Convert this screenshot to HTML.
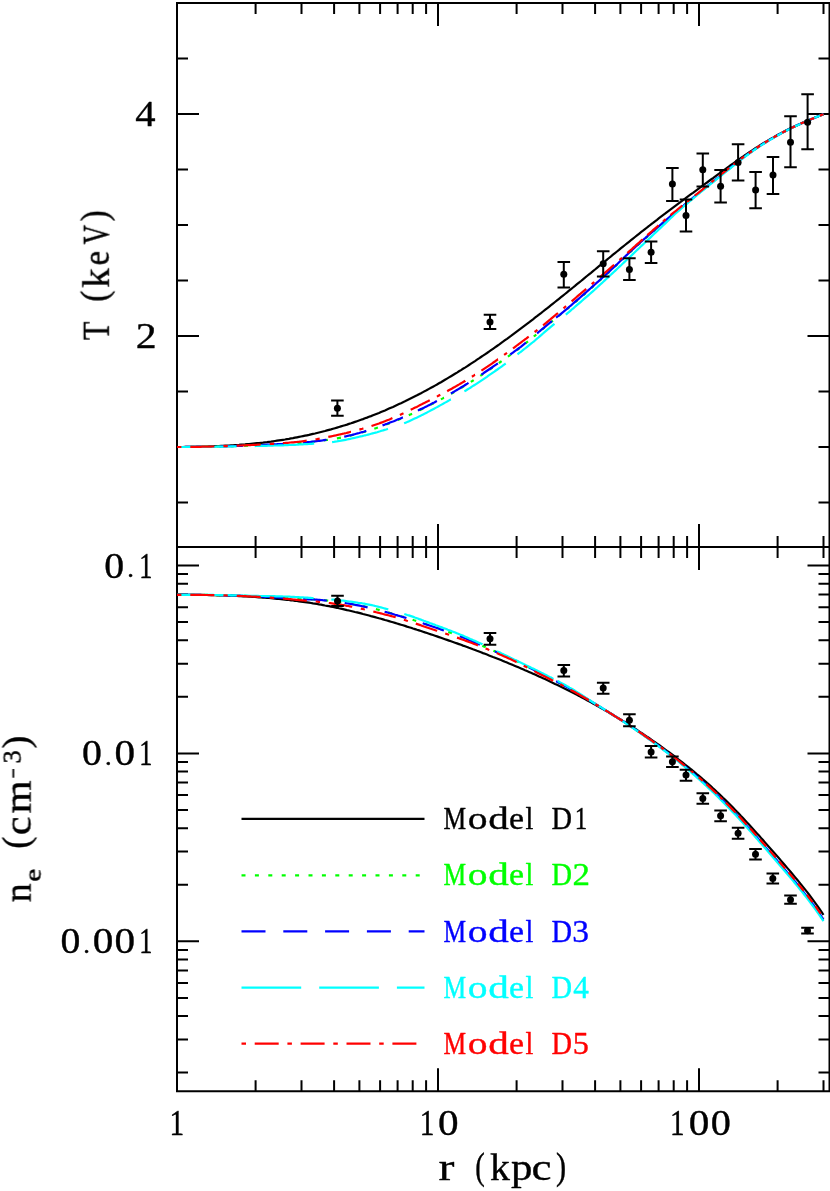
<!DOCTYPE html>
<html><head><meta charset="utf-8"><title>chart</title>
<style>
html,body{margin:0;padding:0;background:#fff;}
body{width:830px;height:1191px;overflow:hidden;}
svg{display:block;font-family:"Liberation Serif",serif;}
svg text{font-family:"Liberation Serif",serif;}
</style></head><body>
<svg width="830" height="1191" viewBox="0 0 830 1191">
<rect x="0" y="0" width="830" height="1191" fill="#fff"/>
<path d="M177.0 3.0H829.5V1091.3H177.0ZM177.0 547.0H829.5M255.6 3.0v11.1M255.6 535.9v22.2M255.6 1091.3v-11.1M301.5 3.0v11.1M301.5 535.9v22.2M301.5 1091.3v-11.1M334.1 3.0v11.1M334.1 535.9v22.2M334.1 1091.3v-11.1M359.4 3.0v11.1M359.4 535.9v22.2M359.4 1091.3v-11.1M380.1 3.0v11.1M380.1 535.9v22.2M380.1 1091.3v-11.1M397.6 3.0v11.1M397.6 535.9v22.2M397.6 1091.3v-11.1M412.7 3.0v11.1M412.7 535.9v22.2M412.7 1091.3v-11.1M426.1 3.0v11.1M426.1 535.9v22.2M426.1 1091.3v-11.1M438.0 3.0v23.0M438.0 524.0v46.0M438.0 1091.3v-23.0M516.6 3.0v11.1M516.6 535.9v22.2M516.6 1091.3v-11.1M562.5 3.0v11.1M562.5 535.9v22.2M562.5 1091.3v-11.1M595.1 3.0v11.1M595.1 535.9v22.2M595.1 1091.3v-11.1M620.4 3.0v11.1M620.4 535.9v22.2M620.4 1091.3v-11.1M641.1 3.0v11.1M641.1 535.9v22.2M641.1 1091.3v-11.1M658.6 3.0v11.1M658.6 535.9v22.2M658.6 1091.3v-11.1M673.7 3.0v11.1M673.7 535.9v22.2M673.7 1091.3v-11.1M687.1 3.0v11.1M687.1 535.9v22.2M687.1 1091.3v-11.1M699.0 3.0v23.0M699.0 524.0v46.0M699.0 1091.3v-23.0M777.6 3.0v11.1M777.6 535.9v22.2M777.6 1091.3v-11.1M823.5 3.0v11.1M823.5 535.9v22.2M823.5 1091.3v-11.1M177.0 502.5h11.0M829.5 502.5h-11.0M177.0 447.0h11.0M829.5 447.0h-11.0M177.0 391.5h11.0M829.5 391.5h-11.0M177.0 336.0h22.0M829.5 336.0h-22.0M177.0 280.5h11.0M829.5 280.5h-11.0M177.0 225.0h11.0M829.5 225.0h-11.0M177.0 169.5h11.0M829.5 169.5h-11.0M177.0 114.0h22.0M829.5 114.0h-22.0M177.0 58.5h11.0M829.5 58.5h-11.0M177.0 1072.6h11.0M829.5 1072.6h-11.0M177.0 1039.5h11.0M829.5 1039.5h-11.0M177.0 1016.1h11.0M829.5 1016.1h-11.0M177.0 997.9h11.0M829.5 997.9h-11.0M177.0 983.0h11.0M829.5 983.0h-11.0M177.0 970.4h11.0M829.5 970.4h-11.0M177.0 959.5h11.0M829.5 959.5h-11.0M177.0 949.9h11.0M829.5 949.9h-11.0M177.0 941.3h22.0M829.5 941.3h-22.0M177.0 884.7h11.0M829.5 884.7h-11.0M177.0 851.6h11.0M829.5 851.6h-11.0M177.0 828.2h11.0M829.5 828.2h-11.0M177.0 810.0h11.0M829.5 810.0h-11.0M177.0 795.1h11.0M829.5 795.1h-11.0M177.0 782.5h11.0M829.5 782.5h-11.0M177.0 771.6h11.0M829.5 771.6h-11.0M177.0 762.0h11.0M829.5 762.0h-11.0M177.0 753.4h22.0M829.5 753.4h-22.0M177.0 696.8h11.0M829.5 696.8h-11.0M177.0 663.7h11.0M829.5 663.7h-11.0M177.0 640.3h11.0M829.5 640.3h-11.0M177.0 622.1h11.0M829.5 622.1h-11.0M177.0 607.2h11.0M829.5 607.2h-11.0M177.0 594.6h11.0M829.5 594.6h-11.0M177.0 583.7h11.0M829.5 583.7h-11.0M177.0 574.1h11.0M829.5 574.1h-11.0M177.0 565.5h22.0M829.5 565.5h-22.0" fill="none" stroke="#000" stroke-width="2" stroke-linecap="butt" stroke-linejoin="miter"/>
<path d="M177.0 447.0 L179.0 447.0 L181.0 447.0 L183.0 447.0 L185.0 446.9 L187.0 446.9 L189.0 446.9 L191.0 446.8 L193.0 446.8 L195.0 446.8 L197.0 446.7 L199.0 446.7 L201.0 446.6 L203.0 446.6 L205.0 446.5 L207.0 446.5 L209.0 446.4 L211.0 446.3 L213.0 446.3 L215.0 446.2 L217.0 446.1 L219.0 446.0 L221.0 445.9 L223.0 445.8 L225.0 445.7 L227.0 445.6 L229.0 445.5 L231.0 445.4 L233.0 445.3 L235.0 445.1 L237.0 445.0 L239.0 444.9 L241.0 444.7 L243.0 444.5 L245.0 444.4 L247.0 444.2 L249.0 444.0 L251.0 443.8 L253.0 443.6 L255.0 443.4 L257.0 443.2 L259.0 443.0 L261.0 442.8 L263.0 442.6 L265.0 442.3 L267.0 442.1 L269.0 441.8 L271.0 441.6 L273.0 441.3 L275.0 441.0 L277.0 440.7 L279.0 440.4 L281.0 440.1 L283.0 439.8 L285.0 439.5 L287.0 439.1 L289.0 438.8 L291.0 438.4 L293.0 438.1 L295.0 437.7 L297.0 437.3 L299.0 436.9 L301.0 436.5 L303.0 436.1 L305.0 435.7 L307.0 435.3 L309.0 434.9 L311.0 434.4 L313.0 433.9 L315.0 433.5 L317.0 433.0 L319.0 432.5 L321.0 432.0 L323.0 431.5 L325.0 431.0 L327.0 430.4 L329.0 429.9 L331.0 429.4 L333.0 428.8 L335.0 428.2 L337.0 427.6 L339.0 427.0 L341.0 426.4 L343.0 425.8 L345.0 425.2 L347.0 424.6 L349.0 423.9 L351.0 423.3 L353.0 422.6 L355.0 421.9 L357.0 421.2 L359.0 420.5 L361.0 419.8 L363.0 419.1 L365.0 418.3 L367.0 417.6 L369.0 416.8 L371.0 416.1 L373.0 415.3 L375.0 414.5 L377.0 413.7 L379.0 412.9 L381.0 412.0 L383.0 411.2 L385.0 410.4 L387.0 409.5 L389.0 408.6 L391.0 407.7 L393.0 406.9 L395.0 405.9 L397.0 405.0 L399.0 404.1 L401.0 403.2 L403.0 402.2 L405.0 401.3 L407.0 400.3 L409.0 399.3 L411.0 398.3 L413.0 397.3 L415.0 396.3 L417.0 395.3 L419.0 394.2 L421.0 393.2 L423.0 392.1 L425.0 391.1 L427.0 390.0 L429.0 388.9 L431.0 387.8 L433.0 386.7 L435.0 385.6 L437.0 384.5 L439.0 383.3 L441.0 382.2 L443.0 381.0 L445.0 379.8 L447.0 378.6 L449.0 377.4 L451.0 376.2 L453.0 375.0 L455.0 373.8 L457.0 372.6 L459.0 371.3 L461.0 370.1 L463.0 368.8 L465.0 367.6 L467.0 366.3 L469.0 365.0 L471.0 363.7 L473.0 362.4 L475.0 361.1 L477.0 359.7 L479.0 358.4 L481.0 357.0 L483.0 355.7 L485.0 354.3 L487.0 353.0 L489.0 351.6 L491.0 350.2 L493.0 348.8 L495.0 347.4 L497.0 346.0 L499.0 344.6 L501.0 343.1 L503.0 341.7 L505.0 340.2 L507.0 338.8 L509.0 337.3 L511.0 335.9 L513.0 334.4 L515.0 332.9 L517.0 331.4 L519.0 329.9 L521.0 328.4 L523.0 326.9 L525.0 325.4 L527.0 323.9 L529.0 322.4 L531.0 320.8 L533.0 319.3 L535.0 317.7 L537.0 316.2 L539.0 314.6 L541.0 313.1 L543.0 311.5 L545.0 309.9 L547.0 308.4 L549.0 306.8 L551.0 305.2 L553.0 303.6 L555.0 302.0 L557.0 300.4 L559.0 298.8 L561.0 297.2 L563.0 295.6 L565.0 294.0 L567.0 292.4 L569.0 290.7 L571.0 289.1 L573.0 287.5 L575.0 285.9 L577.0 284.2 L579.0 282.6 L581.0 281.0 L583.0 279.3 L585.0 277.7 L587.0 276.0 L589.0 274.4 L591.0 272.8 L593.0 271.1 L595.0 269.5 L597.0 267.8 L599.0 266.2 L601.0 264.6 L603.0 262.9 L605.0 261.3 L607.0 259.6 L609.0 258.0 L611.0 256.4 L613.0 254.7 L615.0 253.1 L617.0 251.5 L619.0 249.9 L621.0 248.2 L623.0 246.6 L625.0 245.0 L627.0 243.4 L629.0 241.8 L631.0 240.2 L633.0 238.6 L635.0 237.0 L637.0 235.4 L639.0 233.8 L641.0 232.2 L643.0 230.7 L645.0 229.1 L647.0 227.5 L649.0 226.0 L651.0 224.4 L653.0 222.9 L655.0 221.3 L657.0 219.8 L659.0 218.2 L661.0 216.7 L663.0 215.2 L665.0 213.7 L667.0 212.1 L669.0 210.6 L671.0 209.1 L673.0 207.6 L675.0 206.1 L677.0 204.6 L679.0 203.1 L681.0 201.6 L683.0 200.1 L685.0 198.7 L687.0 197.2 L689.0 195.7 L691.0 194.2 L693.0 192.8 L695.0 191.3 L697.0 189.8 L699.0 188.3 L701.0 186.9 L703.0 185.4 L705.0 183.9 L707.0 182.5 L709.0 181.0 L711.0 179.5 L713.0 178.1 L715.0 176.6 L717.0 175.1 L719.0 173.7 L721.0 172.2 L723.0 170.8 L725.0 169.3 L727.0 167.9 L729.0 166.5 L731.0 165.0 L733.0 163.6 L735.0 162.2 L737.0 160.8 L739.0 159.4 L741.0 158.0 L743.0 156.6 L745.0 155.2 L747.0 153.9 L749.0 152.5 L751.0 151.2 L753.0 149.9 L755.0 148.5 L757.0 147.3 L759.0 146.0 L761.0 144.7 L763.0 143.5 L765.0 142.3 L767.0 141.1 L769.0 139.9 L771.0 138.7 L773.0 137.6 L775.0 136.4 L777.0 135.3 L779.0 134.2 L781.0 133.2 L783.0 132.1 L785.0 131.1 L787.0 130.1 L789.0 129.1 L791.0 128.1 L793.0 127.1 L795.0 126.2 L797.0 125.3 L799.0 124.4 L801.0 123.5 L803.0 122.6 L805.0 121.7 L807.0 120.9 L809.0 120.0 L811.0 119.2 L813.0 118.4 L815.0 117.6 L817.0 116.8 L819.0 116.0 L821.0 115.2 L823.0 114.4 L823.5 114.2" fill="none" stroke="#000" stroke-width="2.2"/>
<path d="M177.0 447.0L178.5 447.0L180.0 447.0L181.1 447.0M190.4 446.9L191.9 446.9L193.4 446.9L194.5 446.9M203.8 446.8L205.3 446.8L206.8 446.7L207.9 446.7M217.2 446.6L218.7 446.5L220.2 446.5L221.3 446.5M230.6 446.2L232.1 446.1L233.6 446.1L234.7 446.0M244.0 445.7L245.5 445.7L247.0 445.6L248.1 445.6M257.4 445.3L258.9 445.2L260.4 445.2L261.5 445.1M270.8 444.6L272.3 444.6L273.8 444.5L274.8 444.5M284.1 444.0L285.6 443.9L287.1 443.9L288.2 443.8M297.5 443.2L299.0 443.1L300.5 443.0L301.5 442.9M310.7 442.0L312.2 441.9L313.7 441.7L314.8 441.5M323.9 440.4L325.4 440.2L326.9 440.0L327.9 439.8M336.9 438.4L338.4 438.1L339.9 437.8L340.9 437.6M349.7 435.7L351.2 435.4L352.7 435.0L353.5 434.8M362.1 432.5L363.6 432.0L365.1 431.6L365.9 431.3M374.3 428.7L375.8 428.2L377.3 427.7L377.9 427.5M386.1 424.5L387.6 424.0L389.1 423.4L389.6 423.2M397.6 420.1L399.1 419.5L400.6 418.8L401.0 418.7M408.8 415.3L410.3 414.6L411.8 413.9L412.1 413.8M419.7 410.2L421.2 409.5L422.7 408.8L423.0 408.6M430.4 404.9L431.9 404.1L433.4 403.4L433.6 403.3M440.9 399.4L442.4 398.6L443.9 397.8L444.0 397.8M451.1 393.8L452.6 393.0L454.1 392.1L454.2 392.1M461.1 388.0L462.6 387.1L464.1 386.1M470.8 381.9L472.3 381.0L473.7 380.1M480.3 375.8L481.8 374.8L483.1 373.9M489.6 369.5L491.1 368.5L492.4 367.6M498.9 363.1L500.4 362.0L501.6 361.2M507.9 356.7L509.4 355.6L510.7 354.7M516.9 350.1L518.4 349.0L519.5 348.2M525.5 343.4L527.0 342.2L528.0 341.4M533.8 336.5L535.3 335.3L536.2 334.5M542.0 329.6L543.5 328.4L544.5 327.5M550.4 322.7L551.9 321.5L552.9 320.7M558.8 315.9L560.3 314.7L561.3 313.9M567.0 309.1L568.5 307.9L569.5 307.0M575.2 302.1L576.7 300.9L577.6 300.1M583.3 295.1L584.8 293.8L585.7 293.0M591.2 288.1L592.7 286.8L593.6 286.0M599.2 281.0L600.7 279.6L601.5 278.9M607.0 274.0L608.5 272.6L609.4 271.7M614.7 266.8L616.2 265.4L617.0 264.6M622.3 259.6L623.8 258.2L624.6 257.4M629.9 252.4L631.4 251.0L632.3 250.2M637.7 245.2L639.2 243.9L640.1 243.1M645.6 238.1L647.1 236.8L648.0 236.0M653.6 231.1L655.1 229.7L656.0 229.0M661.6 224.1L663.1 222.8L664.0 222.0M669.7 217.2L671.2 215.9L672.2 215.0M678.0 210.2L679.5 208.9L680.5 208.1M686.3 203.3L687.8 202.1L688.8 201.3M694.6 196.5L696.1 195.3L697.2 194.4M703.0 189.7L704.5 188.5L705.6 187.6M711.5 182.8L713.0 181.6L714.0 180.8M719.9 176.1L721.4 174.9L722.5 174.0M728.4 169.3L729.9 168.1L731.0 167.2M736.9 162.6L738.4 161.4L739.5 160.5M745.6 155.9L747.1 154.8L748.4 153.9M754.8 149.5L756.3 148.4L757.6 147.6M764.2 143.3L765.7 142.4L767.2 141.4M774.1 137.3L775.6 136.4L777.1 135.6M784.3 131.7L785.8 130.9L787.3 130.1L787.5 130.0M794.9 126.4L796.4 125.7L797.9 125.0L798.3 124.8M806.0 121.4L807.5 120.7L809.0 120.1L809.4 119.9M817.3 116.7L818.8 116.1L820.3 115.5L820.7 115.3" fill="none" stroke="#00ff00" stroke-width="2.2"/>
<path d="M177.0 447.0L178.5 447.0L180.0 447.0L181.5 447.0L183.0 447.0L184.5 447.0L186.0 446.9L187.5 446.9L189.0 446.9L190.5 446.9L192.0 446.9L193.5 446.9L195.0 446.9L196.5 446.9L198.0 446.8L199.5 446.8L200.9 446.8M219.1 446.5L220.6 446.5L222.1 446.4L223.6 446.4L225.1 446.3L226.6 446.3L228.1 446.2L229.6 446.2L231.1 446.1L232.6 446.1L234.1 446.0L235.6 446.0L237.1 445.9L238.6 445.9L240.1 445.8L241.6 445.8L243.0 445.7M261.2 445.0L262.7 445.0L264.2 444.9L265.7 444.8L267.2 444.7L268.7 444.7L270.2 444.6L271.7 444.5L273.2 444.4L274.7 444.4L276.2 444.3L277.7 444.2L279.2 444.2L280.7 444.1L282.2 444.0L283.7 443.9L285.0 443.9M303.1 442.6L304.6 442.5L306.1 442.4L307.6 442.2L309.1 442.0L310.6 441.9L312.1 441.7L313.6 441.5L315.1 441.3L316.6 441.1L318.1 441.0L319.6 440.8L321.1 440.6L322.6 440.4L324.1 440.1L325.6 439.9L326.6 439.8M344.2 436.7L345.7 436.4L347.2 436.0L348.7 435.7L350.2 435.3L351.7 435.0L353.2 434.6L354.7 434.2L356.2 433.8L357.7 433.4L359.2 433.0L360.7 432.5L362.2 432.1L363.7 431.7L365.2 431.2L366.3 430.9M382.5 425.4L384.0 424.9L385.5 424.3L387.0 423.8L388.5 423.2L390.0 422.6L391.5 422.0L393.0 421.5L394.5 420.9L396.0 420.2L397.5 419.6L399.0 419.0L400.5 418.4L402.0 417.7L402.9 417.4M417.9 410.6L419.4 409.8L420.9 409.1L422.4 408.4L423.9 407.7L425.4 406.9L426.9 406.2L428.4 405.4L429.9 404.7L431.4 403.9L432.9 403.1L434.4 402.4L435.9 401.6L436.9 401.1M450.9 393.5L452.4 392.6L453.9 391.8L455.4 390.9L456.9 390.0L458.4 389.1L459.9 388.2L461.4 387.3L462.9 386.4L464.4 385.5L465.9 384.5L467.4 383.6L468.5 382.9M481.4 374.6L482.9 373.6L484.4 372.5L485.9 371.5L487.4 370.5L488.9 369.5L490.4 368.5L491.9 367.5L493.4 366.4L494.9 365.4L496.4 364.4L497.9 363.3M510.3 354.5L511.8 353.4L513.3 352.3L514.8 351.2L516.3 350.1L517.8 349.0L519.3 347.9L520.8 346.8L522.3 345.6L523.8 344.4L525.3 343.2L525.9 342.7M537.1 333.3L538.6 332.0L540.1 330.8L541.6 329.5L543.1 328.3L544.6 327.1L546.1 325.8L547.6 324.6L549.1 323.4L550.6 322.2L552.0 321.1M556.1 317.7L557.6 316.5L559.1 315.3L560.6 314.1L562.1 312.8L563.6 311.6L565.1 310.3L566.6 309.1L568.1 307.8L569.6 306.5L571.1 305.3L572.6 304.0L574.1 302.7L575.6 301.4L577.1 300.1L578.6 298.8L580.1 297.5L581.6 296.2L583.1 294.9L584.6 293.6L586.1 292.2L587.6 290.9L589.1 289.6L590.6 288.3L592.1 286.9L593.6 285.6L595.1 284.3L596.6 282.9L598.1 281.6L599.6 280.2L601.1 278.9L602.6 277.5L604.1 276.2L605.6 274.8L607.1 273.5L608.6 272.1L610.1 270.7L611.6 269.3L613.1 267.9L614.6 266.5L616.1 265.1L617.6 263.7L619.1 262.2L620.6 260.8L622.1 259.4L623.6 258.0L625.1 256.5L626.6 255.1L628.1 253.7L629.6 252.3L631.1 250.9L632.6 249.5L634.1 248.1L635.6 246.8L637.1 245.4L638.6 244.0L640.1 242.7L641.6 241.3L643.1 240.0L644.6 238.7L646.1 237.3L647.6 236.0L649.1 234.7L650.6 233.4L652.1 232.1L653.6 230.8L655.1 229.5L656.6 228.2L658.1 226.9L659.6 225.6L661.1 224.3L662.6 223.0L664.1 221.7L665.6 220.5L667.1 219.2L668.6 217.9L670.1 216.7L671.6 215.4L673.1 214.2L674.6 212.9L676.1 211.7L677.6 210.4L679.1 209.2L680.6 207.9L682.1 206.7L683.6 205.5L685.1 204.2L686.6 203.0L688.1 201.8L689.6 200.6L691.1 199.3L692.6 198.1L694.1 196.9L695.6 195.7L697.1 194.5L698.6 193.2L700.1 192.0L701.6 190.8L703.1 189.6L704.6 188.4L706.1 187.2L707.6 185.9L709.1 184.7L710.6 183.5L712.1 182.3L713.6 181.1L715.1 179.9L716.6 178.7L718.1 177.5L719.6 176.3L721.1 175.1L722.6 173.9L724.1 172.7L725.6 171.5L727.1 170.3L728.6 169.1L730.1 167.9L731.6 166.7L733.1 165.5L734.6 164.3L736.1 163.1L737.6 162.0L739.1 160.8L740.6 159.7L742.1 158.5L743.6 157.4L745.1 156.3L746.6 155.2L748.1 154.1L749.6 153.0L751.1 152.0L752.6 150.9L754.1 149.9L755.6 148.9L757.1 147.9L758.6 146.9L760.1 145.9L761.6 144.9L763.1 144.0L764.6 143.0L766.1 142.1L767.6 141.2L769.1 140.3L770.6 139.4L772.1 138.5L773.6 137.6L775.1 136.7L776.6 135.9L778.1 135.0L779.6 134.2L781.1 133.4L782.6 132.6L784.1 131.8L785.6 131.0L787.1 130.2L788.6 129.5L790.1 128.7L791.6 128.0L793.1 127.3L794.6 126.5L796.1 125.8L797.6 125.1L799.1 124.4L800.6 123.8L802.1 123.1L803.6 122.4L805.1 121.8L806.6 121.1L808.1 120.5L809.6 119.8L811.1 119.2L812.6 118.6L814.1 118.0L815.6 117.4L817.1 116.8L818.6 116.1L820.1 115.5L821.6 114.9L823.1 114.3L823.5 114.2" fill="none" stroke="#0000ff" stroke-width="2.2"/>
<path d="M177.0 447.0L178.5 447.0L180.0 447.0L181.5 447.0L183.0 447.0L184.5 447.0L186.0 447.0L187.5 447.0L189.0 446.9L190.5 446.9L192.0 446.9L193.5 446.9L195.0 446.9L196.5 446.9L198.0 446.9L199.5 446.9L201.0 446.9L202.5 446.9L204.0 446.9L205.5 446.9L207.0 446.8L208.5 446.8L210.0 446.8L211.5 446.8L213.0 446.8L214.5 446.8L216.0 446.7L217.5 446.7L219.0 446.7L220.5 446.7L222.0 446.6L223.5 446.6L225.0 446.6L226.5 446.5L228.0 446.5L229.5 446.5L231.0 446.4L232.5 446.4L234.0 446.4L235.5 446.3L236.6 446.3M254.7 446.1L256.2 446.0L257.7 446.0L259.2 446.0L260.7 446.0L262.2 445.9L263.7 445.9L265.2 445.8L266.7 445.8L268.2 445.7L269.7 445.7L271.2 445.6L272.7 445.6L274.2 445.5L275.7 445.5L277.2 445.5L278.7 445.4L280.2 445.4L281.7 445.3L283.2 445.3L284.7 445.2L286.2 445.1L287.7 445.1L289.2 445.0L290.7 445.0L292.2 444.9L293.7 444.8L295.2 444.8L296.7 444.7L298.2 444.6L299.7 444.5L301.2 444.4L302.7 444.3L304.2 444.2L305.7 444.1L307.2 444.1L308.7 444.0L310.2 443.9L311.7 443.8L313.2 443.7L314.2 443.7M332.1 442.2L333.6 442.0L335.1 441.7L336.6 441.5L338.1 441.2L339.6 441.0L341.1 440.7L342.6 440.4L344.1 440.1L345.6 439.8L347.1 439.5L348.6 439.2L350.1 438.9L351.6 438.5L353.1 438.2L354.6 437.9L356.1 437.5L357.6 437.2L359.1 436.8L360.6 436.4L362.1 436.1L363.6 435.7L365.1 435.3L366.6 435.0L368.1 434.6L369.6 434.2L371.1 433.8L372.6 433.4L374.1 433.0L375.6 432.6L377.1 432.2L378.6 431.7L380.1 431.3L381.6 430.8L383.1 430.4L384.6 429.9L386.1 429.5L387.6 429.0L388.0 428.9M404.1 423.3L405.6 422.7L407.1 422.1L408.6 421.4L410.1 420.7L411.6 420.0L413.1 419.3L414.6 418.6L416.1 417.9L417.6 417.2L419.1 416.4L420.6 415.7L422.1 414.9L423.6 414.2L425.1 413.4L426.6 412.7L428.1 411.9L429.6 411.1L431.1 410.3L432.6 409.5L434.1 408.7L435.6 407.9L437.1 407.1L438.6 406.3L440.1 405.4L441.6 404.6L443.1 403.8L444.6 402.9L446.1 402.1L447.6 401.3L449.1 400.4L450.6 399.5L450.9 399.4M464.4 391.4L465.9 390.5L467.4 389.5L468.9 388.6L470.4 387.7L471.9 386.7L473.4 385.7L474.9 384.8L476.4 383.8L477.9 382.8L479.4 381.8L480.9 380.8L482.4 379.8L483.9 378.8L485.4 377.8L486.9 376.8L488.4 375.7L489.9 374.7L491.4 373.7L492.9 372.6L494.4 371.6L495.9 370.5L497.4 369.5L498.9 368.4L500.4 367.4L501.9 366.3L503.4 365.2L504.9 364.1L505.7 363.5M517.5 354.4L519.0 353.2L520.5 352.0L522.0 350.9L523.5 349.7L525.0 348.5L526.5 347.3L528.0 346.1L529.5 344.9L531.0 343.7L532.5 342.5L534.0 341.3L535.5 340.0L537.0 338.7L538.5 337.5L540.0 336.1L541.5 334.8L543.0 333.5L544.5 332.2L546.0 330.9L547.5 329.6L549.0 328.4L550.5 327.1L552.0 325.9L553.5 324.7L554.5 323.9M565.8 314.6L567.3 313.3L568.8 312.1L570.3 310.8L571.8 309.5L573.3 308.3L574.8 307.0L576.3 305.7L577.8 304.4L579.3 303.1L580.8 301.8L582.3 300.5L583.8 299.2L585.3 297.9L586.8 296.6L588.3 295.3L589.8 294.0L591.3 292.6L592.8 291.3L594.3 290.0L595.8 288.6L597.3 287.3L598.8 285.9L600.3 284.5L601.8 283.2L603.3 281.8L604.8 280.4L606.3 279.0L607.8 277.6L609.3 276.2L610.8 274.8L612.3 273.4L613.8 272.0L615.3 270.6L616.8 269.2L618.3 267.8L619.8 266.4L621.3 265.0L622.8 263.5L624.3 262.1L625.8 260.7L627.3 259.3L628.8 257.9L630.3 256.5L631.8 255.1L633.3 253.6L634.8 252.2L636.3 250.8L637.8 249.4L639.3 248.0L640.8 246.5L642.3 245.1L643.8 243.7L645.3 242.3L646.8 240.9L648.3 239.5L649.8 238.1L651.3 236.6L652.8 235.2L654.3 233.8L655.8 232.4L657.3 231.0L658.8 229.5L660.3 228.1L661.8 226.7L663.3 225.3L664.8 223.9L666.3 222.4L667.8 221.0L669.3 219.5L670.8 218.0L672.3 216.6L673.8 215.2L675.3 213.8L676.8 212.4L678.3 211.1L679.8 209.8L681.3 208.5L682.8 207.2L684.3 205.9L685.8 204.6L687.3 203.3L688.8 202.0L690.3 200.8L691.8 199.5L693.3 198.3L694.8 197.0L696.3 195.8L697.8 194.5L699.3 193.3L700.8 192.0L702.3 190.8L703.8 189.6L705.3 188.4L706.8 187.2L708.3 185.9L709.8 184.7L711.3 183.5L712.8 182.3L714.3 181.1L715.8 179.9L717.3 178.7L718.8 177.5L720.3 176.3L721.8 175.1L723.3 173.9L724.8 172.7L726.3 171.5L727.8 170.3L729.3 169.1L730.8 167.9L732.3 166.7L733.8 165.5L735.3 164.3L736.8 163.1L738.3 161.9L739.8 160.7L741.3 159.5L742.8 158.4L744.3 157.2L745.8 156.1L747.3 155.0L748.8 153.9L750.3 152.8L751.8 151.8L753.3 150.7L754.8 149.7L756.3 148.7L757.8 147.7L759.3 146.7L760.8 145.7L762.3 144.7L763.8 143.7L765.3 142.8L766.8 141.8L768.3 140.9L769.8 140.0L771.3 139.1L772.8 138.2L774.3 137.3L775.8 136.4L777.3 135.6L778.8 134.8L780.3 133.9L781.8 133.1L783.3 132.3L784.8 131.5L786.3 130.7L787.8 130.0L789.3 129.2L790.8 128.4L792.3 127.7L793.8 127.0L795.3 126.3L796.8 125.5L798.3 124.9L799.8 124.2L801.3 123.5L802.8 122.8L804.3 122.1L805.8 121.5L807.3 120.8L808.8 120.2L810.3 119.6L811.8 118.9L813.3 118.3L814.8 117.7L816.3 117.1L817.8 116.5L819.3 115.9L820.8 115.3L822.3 114.7L823.5 114.2" fill="none" stroke="#00ffff" stroke-width="2.2"/>
<path d="M177.0 447.0L178.5 447.0L180.0 447.0L181.4 447.0M190.3 446.9L191.8 446.9L193.3 446.9L194.8 446.8L196.3 446.8L197.8 446.8L199.3 446.8L200.8 446.8L202.3 446.7L203.8 446.7L205.3 446.7L206.8 446.7L208.3 446.6L209.8 446.6L211.3 446.6L212.8 446.5L214.3 446.5L214.4 446.5M223.4 446.2L224.9 446.2L226.4 446.1L227.8 446.0M236.7 445.7L238.2 445.6L239.7 445.5L241.2 445.5L242.7 445.4L244.2 445.4L245.7 445.3L247.2 445.2L248.7 445.2L250.2 445.1L251.7 445.0L253.2 444.9L254.7 444.9L256.2 444.8L257.7 444.7L259.2 444.6L260.7 444.5M269.7 444.0L271.2 443.9L272.7 443.8L274.1 443.7M282.9 443.1L284.4 443.0L285.9 442.9L287.4 442.8L288.9 442.7L290.4 442.5L291.9 442.4L293.4 442.3L294.9 442.1L296.4 442.0L297.9 441.8L299.4 441.7L300.9 441.5L302.4 441.3L303.9 441.1L305.4 440.9L306.7 440.7M315.5 439.3L317.0 439.1L318.5 438.8L319.7 438.6M328.3 436.9L329.8 436.6L331.3 436.3L332.8 436.0L334.3 435.7L335.8 435.4L337.3 435.0L338.8 434.7L340.3 434.3L341.8 434.0L343.3 433.7L344.8 433.3L346.3 433.0L347.8 432.6L349.3 432.2L350.8 431.8L351.0 431.8M359.4 429.6L360.9 429.1L362.4 428.7L363.4 428.4M371.5 426.0L373.0 425.5L374.5 425.0L376.0 424.5L377.5 424.0L379.0 423.5L380.5 422.9L382.0 422.4L383.5 421.8L385.0 421.2L386.5 420.6L388.0 420.0L389.5 419.4L391.0 418.7L392.4 418.1M399.9 414.9L401.4 414.2L402.9 413.5L403.5 413.2M410.7 409.8L412.2 409.1L413.7 408.3L415.2 407.6L416.7 406.9L418.2 406.1L419.7 405.3L421.2 404.6L422.7 403.8L424.2 403.1L425.7 402.3L427.2 401.6L428.7 400.8L429.8 400.2M436.9 396.6L438.4 395.8L439.9 395.0L440.3 394.8M447.2 391.2L448.7 390.3L450.2 389.5L451.7 388.7L453.2 387.8L454.7 387.0L456.2 386.1L457.7 385.2L459.2 384.4L460.7 383.5L462.2 382.6L463.7 381.7L465.2 380.8L465.3 380.7M471.9 376.7L473.4 375.8L474.9 374.8L475.0 374.8M481.4 370.7L482.9 369.7L484.4 368.7L485.9 367.7L487.4 366.7L488.9 365.6L490.4 364.6L491.9 363.6L493.4 362.5L494.9 361.5L496.4 360.4L497.9 359.3L498.0 359.3M504.1 354.9L505.6 353.8L507.0 352.8M513.0 348.4L514.5 347.3L516.0 346.2L517.5 345.0L519.0 343.9L520.5 342.8L522.0 341.7L523.5 340.5L525.0 339.4L526.5 338.3L528.0 337.1L528.7 336.6M534.6 332.0L536.1 330.9L537.4 329.9M543.1 325.3L544.6 324.1L546.1 322.9L547.6 321.6L549.1 320.4L550.6 319.2L552.1 317.9L553.6 316.6L555.1 315.4L556.6 314.1L558.0 313.0M563.5 308.3L565.0 307.0L566.1 306.1M571.6 301.4L573.1 300.1L574.6 298.8L576.1 297.5L577.6 296.2L579.1 294.9L580.6 293.7L582.1 292.4L583.6 291.1L585.1 289.8L586.2 288.9M591.7 284.2L593.2 282.9L594.3 282.0M599.7 277.3L601.2 276.0L602.7 274.7L604.2 273.4L605.7 272.1L607.2 270.8L608.7 269.5L610.2 268.2L611.7 266.8L613.2 265.5L614.1 264.7M619.5 260.0L621.0 258.7L622.1 257.7M627.4 253.0L628.9 251.6L630.4 250.3L631.9 249.0L633.4 247.6L634.9 246.3L636.4 244.9L637.9 243.6L639.4 242.3L640.9 240.9L642.4 239.6L642.7 239.3M647.3 235.2L648.8 233.9L650.3 232.6L651.8 231.3L653.3 229.9L654.8 228.6L656.3 227.3L657.8 226.0L658.5 225.3M663.1 221.4L664.6 220.1L665.7 219.2M670.5 215.2L672.0 213.9L673.5 212.7L675.0 211.5L676.5 210.3L678.0 209.0L679.5 207.8L681.0 206.6L682.3 205.6M687.1 201.8L688.6 200.6L689.9 199.5M694.8 195.6L696.3 194.5L697.8 193.3L699.3 192.1L700.8 190.9L702.3 189.7L703.8 188.4L705.3 187.2L706.7 186.1M711.5 182.2L713.0 181.0L714.2 180.0M719.0 176.1L720.5 174.9L722.0 173.7L723.5 172.6L725.0 171.4L726.5 170.2L728.0 169.0L729.3 168.0M733.5 164.7L735.0 163.5L736.5 162.4L736.7 162.2M741.0 158.9L742.5 157.8L744.0 156.7L744.2 156.6M748.7 153.3L750.2 152.3L751.7 151.3L752.1 151.0M756.6 148.0L758.1 147.0L759.6 146.0L760.1 145.7M764.8 142.7L766.3 141.8L767.8 140.9L768.5 140.5M773.3 137.6L774.8 136.8L776.3 135.9L777.1 135.5M782.1 132.8L783.6 132.0L785.1 131.2L786.0 130.7M791.1 128.2L792.6 127.4L794.1 126.7L795.2 126.2M800.5 123.8L802.0 123.1L803.5 122.4L804.6 122.0M810.1 119.6L811.6 119.0L813.1 118.4L814.3 117.9M819.8 115.7L821.3 115.1L822.8 114.5L823.5 114.2" fill="none" stroke="#ff0000" stroke-width="2.2"/>
<path d="M177.0 594.9 L179.0 594.9 L181.0 594.9 L183.0 594.8 L185.0 594.8 L187.0 594.8 L189.0 594.8 L191.0 594.9 L193.0 594.9 L195.0 594.9 L197.0 594.9 L199.0 594.9 L201.0 594.9 L203.0 595.0 L205.0 595.0 L207.0 595.0 L209.0 595.1 L211.0 595.1 L213.0 595.2 L215.0 595.2 L217.0 595.3 L219.0 595.3 L221.0 595.4 L223.0 595.4 L225.0 595.5 L227.0 595.6 L229.0 595.6 L231.0 595.7 L233.0 595.8 L235.0 595.9 L237.0 596.0 L239.0 596.1 L241.0 596.2 L243.0 596.3 L245.0 596.4 L247.0 596.5 L249.0 596.6 L251.0 596.7 L253.0 596.9 L255.0 597.0 L257.0 597.1 L259.0 597.3 L261.0 597.4 L263.0 597.6 L265.0 597.7 L267.0 597.9 L269.0 598.0 L271.0 598.2 L273.0 598.4 L275.0 598.6 L277.0 598.8 L279.0 599.0 L281.0 599.2 L283.0 599.4 L285.0 599.6 L287.0 599.8 L289.0 600.0 L291.0 600.3 L293.0 600.5 L295.0 600.8 L297.0 601.0 L299.0 601.3 L301.0 601.6 L303.0 601.8 L305.0 602.1 L307.0 602.4 L309.0 602.7 L311.0 603.0 L313.0 603.4 L315.0 603.7 L317.0 604.0 L319.0 604.4 L321.0 604.7 L323.0 605.1 L325.0 605.5 L327.0 605.8 L329.0 606.2 L331.0 606.6 L333.0 607.0 L335.0 607.4 L337.0 607.8 L339.0 608.3 L341.0 608.7 L343.0 609.1 L345.0 609.6 L347.0 610.1 L349.0 610.5 L351.0 611.0 L353.0 611.5 L355.0 612.0 L357.0 612.4 L359.0 612.9 L361.0 613.4 L363.0 614.0 L365.0 614.5 L367.0 615.0 L369.0 615.5 L371.0 616.1 L373.0 616.6 L375.0 617.1 L377.0 617.7 L379.0 618.3 L381.0 618.8 L383.0 619.4 L385.0 620.0 L387.0 620.5 L389.0 621.1 L391.0 621.7 L393.0 622.3 L395.0 622.9 L397.0 623.5 L399.0 624.1 L401.0 624.7 L403.0 625.3 L405.0 625.9 L407.0 626.6 L409.0 627.2 L411.0 627.8 L413.0 628.5 L415.0 629.1 L417.0 629.8 L419.0 630.4 L421.0 631.0 L423.0 631.7 L425.0 632.4 L427.0 633.0 L429.0 633.7 L431.0 634.4 L433.0 635.0 L435.0 635.7 L437.0 636.4 L439.0 637.1 L441.0 637.8 L443.0 638.5 L445.0 639.2 L447.0 639.9 L449.0 640.6 L451.0 641.3 L453.0 642.0 L455.0 642.7 L457.0 643.4 L459.0 644.1 L461.0 644.8 L463.0 645.6 L465.0 646.3 L467.0 647.0 L469.0 647.8 L471.0 648.5 L473.0 649.3 L475.0 650.0 L477.0 650.8 L479.0 651.5 L481.0 652.3 L483.0 653.1 L485.0 653.8 L487.0 654.6 L489.0 655.4 L491.0 656.2 L493.0 657.0 L495.0 657.7 L497.0 658.5 L499.0 659.3 L501.0 660.1 L503.0 660.9 L505.0 661.8 L507.0 662.6 L509.0 663.4 L511.0 664.2 L513.0 665.1 L515.0 665.9 L517.0 666.7 L519.0 667.6 L521.0 668.4 L523.0 669.3 L525.0 670.2 L527.0 671.0 L529.0 671.9 L531.0 672.8 L533.0 673.7 L535.0 674.6 L537.0 675.5 L539.0 676.4 L541.0 677.3 L543.0 678.2 L545.0 679.1 L547.0 680.1 L549.0 681.0 L551.0 682.0 L553.0 682.9 L555.0 683.9 L557.0 684.8 L559.0 685.8 L561.0 686.8 L563.0 687.8 L565.0 688.8 L567.0 689.8 L569.0 690.8 L571.0 691.8 L573.0 692.8 L575.0 693.8 L577.0 694.9 L579.0 695.9 L581.0 697.0 L583.0 698.0 L585.0 699.1 L587.0 700.2 L589.0 701.3 L591.0 702.4 L593.0 703.5 L595.0 704.6 L597.0 705.7 L599.0 706.8 L601.0 708.0 L603.0 709.1 L605.0 710.3 L607.0 711.4 L609.0 712.6 L611.0 713.8 L613.0 715.0 L615.0 716.2 L617.0 717.4 L619.0 718.6 L621.0 719.8 L623.0 721.1 L625.0 722.3 L627.0 723.6 L629.0 724.8 L631.0 726.1 L633.0 727.4 L635.0 728.7 L637.0 730.0 L639.0 731.3 L641.0 732.6 L643.0 734.0 L645.0 735.3 L647.0 736.7 L649.0 738.0 L651.0 739.4 L653.0 740.8 L655.0 742.2 L657.0 743.6 L659.0 745.0 L661.0 746.4 L663.0 747.9 L665.0 749.3 L667.0 750.8 L669.0 752.2 L671.0 753.7 L673.0 755.2 L675.0 756.7 L677.0 758.3 L679.0 759.8 L681.0 761.3 L683.0 762.9 L685.0 764.5 L687.0 766.1 L689.0 767.7 L691.0 769.3 L693.0 770.9 L695.0 772.6 L697.0 774.3 L699.0 775.9 L701.0 777.6 L703.0 779.4 L705.0 781.1 L707.0 782.9 L709.0 784.6 L711.0 786.4 L713.0 788.3 L715.0 790.1 L717.0 792.0 L719.0 793.8 L721.0 795.7 L723.0 797.7 L725.0 799.6 L727.0 801.6 L729.0 803.6 L731.0 805.6 L733.0 807.6 L735.0 809.7 L737.0 811.8 L739.0 813.8 L741.0 816.0 L743.0 818.1 L745.0 820.2 L747.0 822.4 L749.0 824.6 L751.0 826.8 L753.0 829.0 L755.0 831.2 L757.0 833.4 L759.0 835.6 L761.0 837.9 L763.0 840.1 L765.0 842.4 L767.0 844.7 L769.0 846.9 L771.0 849.2 L773.0 851.5 L775.0 853.8 L777.0 856.0 L779.0 858.3 L781.0 860.6 L783.0 863.0 L785.0 865.3 L787.0 867.6 L789.0 869.9 L791.0 872.3 L793.0 874.7 L795.0 877.1 L797.0 879.5 L799.0 881.9 L801.0 884.4 L803.0 886.9 L805.0 889.4 L807.0 891.9 L809.0 894.5 L811.0 897.2 L813.0 899.9 L815.0 902.6 L817.0 905.4 L819.0 908.2 L821.0 911.2 L823.0 914.2 L823.5 914.9" fill="none" stroke="#000" stroke-width="2.2"/>
<path d="M177.0 594.9L178.5 594.9L180.0 594.9L181.1 594.8M190.4 594.8L191.9 594.8L193.4 594.8L194.5 594.8M203.8 594.9L205.3 594.9L206.8 594.9L207.9 594.9M217.2 595.1L218.7 595.1L220.2 595.1L221.3 595.2M230.6 595.4L232.1 595.4L233.6 595.5L234.7 595.5M244.0 595.9L245.5 595.9L247.0 596.0L248.1 596.0M257.4 596.4L258.9 596.5L260.4 596.5L261.5 596.6M270.8 597.0L272.3 597.1L273.8 597.2L274.8 597.3M284.1 597.8L285.6 597.9L287.1 598.0L288.2 598.1M297.4 598.7L298.9 598.8L300.4 598.9L301.5 599.0M310.8 599.3L312.3 599.4L313.8 599.4L314.9 599.5M324.1 600.2L325.6 600.3L327.1 600.5L328.2 600.6M337.3 601.7L338.8 601.9L340.3 602.1L341.3 602.2M350.4 603.7L351.9 604.0L353.4 604.3L354.3 604.4M363.2 606.2L364.7 606.5L366.2 606.8L367.1 607.0M375.9 609.1L377.4 609.5L378.9 609.9L379.7 610.1M388.2 612.4L389.7 612.9L391.2 613.3L392.0 613.5M400.5 616.0L402.0 616.5L403.5 616.9L404.2 617.1M412.6 619.8L414.1 620.3L415.6 620.7L416.2 620.9M424.6 623.7L426.1 624.2L427.6 624.7L428.2 624.9M436.5 627.7L438.0 628.2L439.5 628.8L440.1 629.0M448.3 631.8L449.8 632.4L451.3 632.9L451.9 633.1M460.0 636.1L461.5 636.6L463.0 637.2L463.5 637.4M471.3 640.8L472.8 641.5L474.3 642.1L474.7 642.3M482.3 645.8L483.8 646.5L485.3 647.1L485.7 647.3M493.4 650.7L494.9 651.3L496.4 652.0L496.8 652.2M504.5 655.6L506.0 656.3L507.5 657.0L507.9 657.1M515.5 660.6L517.0 661.3L518.5 662.1L518.8 662.2M526.2 665.9L527.7 666.6L529.2 667.4L529.4 667.5M536.7 671.3L538.2 672.1L539.7 672.9L539.9 673.0M547.3 676.7L548.8 677.4L550.3 678.2L550.5 678.3M557.9 682.1L559.4 682.9L560.9 683.7L561.1 683.8M568.2 687.6L569.7 688.4L571.2 689.3L571.3 689.3M578.3 693.5L579.8 694.4L581.2 695.2M588.0 699.4L589.5 700.4L591.0 701.3M597.8 705.5L599.3 706.4L600.7 707.3M607.5 711.5L609.0 712.4L610.4 713.3M617.2 717.6L618.7 718.5L620.0 719.4M626.7 723.7L628.2 724.7L629.5 725.6M636.0 730.0L637.5 731.0L638.8 731.9M645.2 736.3L646.7 737.4L648.0 738.3M654.3 742.8L655.8 743.9L657.0 744.8M663.2 749.4L664.7 750.5L665.8 751.3M671.9 756.0L673.4 757.2L674.5 758.0M680.4 762.7L681.9 764.0L683.0 764.9M688.8 769.7L690.3 770.9L691.2 771.7M696.9 776.6L698.4 778.0L699.3 778.8M704.8 783.7L706.3 785.1L707.1 785.8M712.5 790.9L714.0 792.3L714.8 793.0M720.0 798.1L721.5 799.6L722.2 800.2M727.3 805.4L728.8 806.9L729.5 807.6M734.5 812.8L736.0 814.4L736.6 815.0M741.5 820.3L743.0 821.9L743.6 822.6M748.3 827.8L749.8 829.4L750.4 830.1M755.1 835.4L756.6 837.1L757.1 837.7M761.7 843.0L763.2 844.7L763.7 845.3M768.3 850.6L769.8 852.3L770.3 852.9M774.9 858.2L776.4 859.9L776.9 860.5M781.5 865.9L783.0 867.6L783.5 868.2M788.1 873.6L789.6 875.3L790.0 875.8M794.5 881.2L796.0 883.0L796.4 883.5M800.8 888.9L802.3 890.8L802.7 891.3M807.0 896.7L808.5 898.7L808.8 899.1M812.9 904.5L814.4 906.6L814.6 906.9M818.6 912.5L820.1 914.7L820.2 914.8" fill="none" stroke="#00ff00" stroke-width="2.2"/>
<path d="M177.0 594.9L178.5 594.9L180.0 594.9L181.5 594.8L183.0 594.8L184.5 594.8L186.0 594.8L187.5 594.8L189.0 594.8L190.5 594.8L192.0 594.8L193.5 594.8L195.0 594.8L196.5 594.8L198.0 594.9L199.5 594.9L200.9 594.9M219.1 595.1L220.6 595.2L222.1 595.2L223.6 595.2L225.1 595.3L226.6 595.3L228.1 595.3L229.6 595.4L231.1 595.4L232.6 595.5L234.1 595.5L235.6 595.6L237.1 595.6L238.6 595.7L240.1 595.7L241.6 595.8L243.0 595.8M261.2 596.6L262.7 596.7L264.2 596.8L265.7 596.9L267.2 596.9L268.7 597.0L270.2 597.1L271.7 597.2L273.2 597.3L274.7 597.3L276.2 597.4L277.7 597.5L279.2 597.6L280.7 597.7L282.2 597.8L283.7 597.9L285.0 598.0M303.1 599.2L304.6 599.2L306.1 599.3L307.6 599.3L309.1 599.4L310.6 599.4L312.1 599.5L313.6 599.5L315.1 599.6L316.6 599.7L318.1 599.8L319.6 599.9L321.1 600.0L322.6 600.2L324.1 600.3L325.6 600.5L326.9 600.6M344.7 602.9L346.2 603.2L347.7 603.4L349.2 603.7L350.7 604.0L352.2 604.2L353.7 604.5L355.2 604.8L356.7 605.1L358.2 605.4L359.7 605.7L361.2 606.0L362.7 606.3L364.2 606.6L365.7 607.0L367.2 607.3L367.6 607.4M384.6 611.7L386.1 612.1L387.6 612.5L389.1 613.0L390.6 613.4L392.1 613.8L393.6 614.2L395.1 614.7L396.6 615.1L398.1 615.6L399.6 616.0L401.1 616.5L402.6 616.9L404.1 617.4L405.6 617.8L406.4 618.1M422.7 623.3L424.2 623.8L425.7 624.3L427.2 624.8L428.7 625.3L430.2 625.8L431.7 626.3L433.2 626.8L434.7 627.3L436.2 627.8L437.7 628.3L439.2 628.8L440.7 629.4L442.2 629.9L443.7 630.4L443.9 630.5M459.9 636.2L461.4 636.7L462.9 637.3L464.4 637.9L465.9 638.6L467.4 639.2L468.9 639.9L470.4 640.5L471.9 641.2L473.4 641.9L474.9 642.5L476.4 643.2L477.9 643.9L479.4 644.6L479.9 644.8M494.9 651.4L496.4 652.1L497.9 652.8L499.4 653.4L500.9 654.1L502.4 654.7L503.9 655.4L505.4 656.1L506.9 656.7L508.4 657.4L509.9 658.1L511.4 658.8L512.9 659.5L514.4 660.2L514.7 660.3M529.2 667.5L530.7 668.3L532.2 669.1L533.7 669.8L535.2 670.6L536.7 671.4L538.2 672.2L539.7 672.9L541.2 673.7L542.7 674.4L544.2 675.2L545.7 676.0L547.2 676.7L548.0 677.1M556.1 681.2L557.6 682.0L559.1 682.8L560.6 683.6L562.1 684.4L563.6 685.2L565.1 686.0L566.6 686.8L568.1 687.6L569.6 688.5L571.1 689.3L572.6 690.2L574.1 691.0L575.6 691.9L577.1 692.8L578.6 693.7L580.1 694.6L581.6 695.5L583.1 696.4L584.6 697.4L586.1 698.3L587.6 699.2L589.1 700.1L590.6 701.1L592.1 702.0L593.6 702.9L595.1 703.8L596.6 704.8L598.1 705.7L599.6 706.6L601.1 707.5L602.6 708.4L604.1 709.4L605.6 710.3L607.1 711.2L608.6 712.1L610.1 713.1L611.6 714.0L613.1 715.0L614.6 715.9L616.1 716.9L617.6 717.8L619.1 718.8L620.6 719.8L622.1 720.7L623.6 721.7L625.1 722.7L626.6 723.7L628.1 724.7L629.6 725.7L631.1 726.6L632.6 727.7L634.1 728.7L635.6 729.7L637.1 730.7L638.6 731.7L640.1 732.7L641.6 733.8L643.1 734.8L644.6 735.9L646.1 736.9L647.6 738.0L649.1 739.0L650.6 740.1L652.1 741.2L653.6 742.3L655.1 743.4L656.6 744.4L658.1 745.5L659.6 746.6L661.1 747.8L662.6 748.9L664.1 750.0L665.6 751.1L667.1 752.3L668.6 753.4L670.1 754.6L671.6 755.7L673.1 756.9L674.6 758.1L676.1 759.3L677.6 760.4L679.1 761.6L680.6 762.9L682.1 764.1L683.6 765.3L685.1 766.5L686.6 767.8L688.1 769.0L689.6 770.3L691.1 771.6L692.6 772.8L694.1 774.1L695.6 775.4L697.1 776.7L698.6 778.1L700.1 779.4L701.6 780.7L703.1 782.1L704.6 783.4L706.1 784.8L707.6 786.2L709.1 787.6L710.6 789.0L712.1 790.4L713.6 791.8L715.1 793.2L716.6 794.7L718.1 796.1L719.6 797.6L721.1 799.1L722.6 800.6L724.1 802.0L725.6 803.6L727.1 805.1L728.6 806.6L730.1 808.1L731.6 809.7L733.1 811.3L734.6 812.8L736.1 814.4L737.6 816.0L739.1 817.6L740.6 819.2L742.1 820.9L743.6 822.5L745.1 824.1L746.6 825.8L748.1 827.4L749.6 829.1L751.1 830.8L752.6 832.5L754.1 834.2L755.6 835.9L757.1 837.6L758.6 839.3L760.1 841.0L761.6 842.7L763.1 844.5L764.6 846.2L766.1 847.9L767.6 849.6L769.1 851.4L770.6 853.1L772.1 854.8L773.6 856.6L775.1 858.3L776.6 860.1L778.1 861.8L779.6 863.5L781.1 865.3L782.6 867.0L784.1 868.8L785.6 870.5L787.1 872.3L788.6 874.0L790.1 875.8L791.6 877.6L793.1 879.4L794.6 881.2L796.1 883.0L797.6 884.8L799.1 886.7L800.6 888.5L802.1 890.4L803.6 892.3L805.1 894.2L806.6 896.1L808.1 898.0L809.6 900.0L811.1 902.0L812.6 904.0L814.1 906.0L815.6 908.1L817.1 910.2L818.6 912.4L820.1 914.5L821.6 916.8L823.1 919.0L823.5 919.6" fill="none" stroke="#0000ff" stroke-width="2.2"/>
<path d="M177.0 594.9L178.5 594.9L180.0 594.9L181.5 594.8L183.0 594.8L184.5 594.8L186.0 594.8L187.5 594.8L189.0 594.8L190.5 594.8L192.0 594.8L193.5 594.8L195.0 594.8L196.5 594.8L198.0 594.8L199.5 594.8L201.0 594.8L202.5 594.8L204.0 594.9L205.5 594.9L207.0 594.9L208.5 594.9L210.0 594.9L211.5 594.9L213.0 594.9L214.5 595.0L216.0 595.0L217.5 595.0L219.0 595.0L220.5 595.1L222.0 595.1L223.5 595.1L225.0 595.1L226.5 595.2L228.0 595.2L229.5 595.2L231.0 595.3L232.5 595.3L234.0 595.3L235.5 595.4L237.0 595.4L238.5 595.5L240.0 595.5L241.5 595.6L243.0 595.6L244.5 595.7L246.0 595.7L247.5 595.7L249.0 595.8L250.5 595.8L252.0 595.8L253.5 595.9L255.0 595.9L256.5 595.9L258.0 595.9L259.5 596.0L261.0 596.0L262.5 596.0L264.0 596.0L265.5 596.1L267.0 596.1L268.5 596.1L270.0 596.1L271.5 596.2L273.0 596.2L274.5 596.2L276.0 596.3L277.5 596.3L279.0 596.3L280.5 596.4L282.0 596.4L283.5 596.5L285.0 596.5L286.5 596.6L288.0 596.7L289.5 596.7L291.0 596.8L292.5 596.9L294.0 596.9L295.5 597.0L297.0 597.1L298.5 597.2L300.0 597.3L301.5 597.3L303.0 597.4L304.5 597.5L306.0 597.6L307.5 597.7L309.0 597.8L310.5 597.9L312.0 598.0L313.5 598.1M331.3 599.5L332.8 599.6L334.3 599.7L335.8 599.9L337.3 600.0L338.8 600.2L340.3 600.3L341.8 600.5L343.3 600.7L344.8 600.9L346.3 601.1L347.8 601.3L349.3 601.5L350.8 601.7L352.3 601.9L353.8 602.1L355.3 602.3L356.8 602.5L358.3 602.8L359.8 603.0L361.3 603.2L362.8 603.5L364.3 603.7L365.8 604.0L367.3 604.3L368.8 604.6L370.3 604.9L371.8 605.2L373.3 605.5L374.8 605.9L376.3 606.2L377.8 606.6L379.3 607.0L380.8 607.4L382.3 607.8L383.8 608.2L385.3 608.6L386.8 609.0L388.3 609.4M404.3 614.0L405.8 614.5L407.3 615.0L408.8 615.4L410.3 615.9L411.8 616.4L413.3 616.9L414.8 617.5L416.3 618.0L417.8 618.5L419.3 619.1L420.8 619.6L422.3 620.2L423.8 620.8L425.3 621.3L426.8 621.9L428.3 622.4L429.8 623.0L431.3 623.5L432.8 624.1L434.3 624.6L435.8 625.2L437.3 625.7L438.8 626.3L440.3 626.9L441.8 627.4L443.3 628.0L444.8 628.5L446.3 629.1L447.8 629.7L449.3 630.2L450.8 630.8L452.3 631.4L453.8 632.0L455.3 632.6L456.8 633.2L458.3 633.8L459.8 634.4L461.3 635.0L462.8 635.6L464.3 636.3L465.8 636.9L467.3 637.5L468.8 638.2L470.3 638.9L471.8 639.5L473.3 640.2L474.8 640.8L476.3 641.5L477.8 642.2L479.3 642.9L480.8 643.6L482.3 644.2L482.4 644.3M497.0 651.2L498.5 651.9L500.0 652.6L501.5 653.4L503.0 654.1L504.5 654.9L506.0 655.6L507.5 656.3L509.0 657.0L510.5 657.8L512.0 658.5L513.5 659.2L515.0 659.9L516.5 660.6L518.0 661.3L519.5 662.1L521.0 662.8L522.5 663.5L524.0 664.2L525.5 665.0L527.0 665.7L528.5 666.4L530.0 667.1L531.5 667.9L533.0 668.6L534.5 669.3L536.0 670.1L537.5 670.8L539.0 671.6L540.5 672.3L542.0 673.1L543.5 673.8L545.0 674.6L546.5 675.3L548.0 676.1L549.5 676.9L551.0 677.6L552.5 678.4L553.5 678.9M557.6 681.0L559.1 681.8L560.6 682.6L562.1 683.4L563.6 684.2L565.1 685.0L566.6 685.9L568.1 686.7L569.6 687.6L571.1 688.4L572.6 689.3L574.1 690.2L575.6 691.2L577.1 692.1L578.6 693.1L580.1 694.0L581.6 695.0L583.1 696.0L584.6 696.9L586.1 697.9L587.6 698.9L589.1 699.9L590.6 700.8L592.1 701.8L593.6 702.8L595.1 703.7L596.6 704.6L598.1 705.6L599.6 706.5L601.1 707.4L602.6 708.4L604.1 709.3L605.6 710.2L607.1 711.2L608.6 712.1L610.1 713.1L611.6 714.0L613.1 715.0L614.6 715.9L616.1 716.9L617.6 717.8L619.1 718.8L620.6 719.8L622.1 720.8L623.6 721.8L625.1 722.8L626.6 723.8L628.1 724.8L629.6 725.8L631.1 726.8L632.6 727.8L634.1 728.8L635.6 729.8L637.1 730.9L638.6 731.9L640.1 733.0L641.6 734.0L643.1 735.1L644.6 736.1L646.1 737.2L647.6 738.3L649.1 739.3L650.6 740.4L652.1 741.5L653.6 742.6L655.1 743.7L656.6 744.8L658.1 745.9L659.6 747.0L661.1 748.2L662.6 749.3L664.1 750.4L665.6 751.6L667.1 752.7L668.6 753.9L670.1 755.1L671.6 756.2L673.1 757.4L674.6 758.6L676.1 759.8L677.6 761.0L679.1 762.2L680.6 763.5L682.1 764.7L683.6 765.9L685.1 767.2L686.6 768.5L688.1 769.7L689.6 771.0L691.1 772.3L692.6 773.6L694.1 774.9L695.6 776.2L697.1 777.6L698.6 778.9L700.1 780.3L701.6 781.6L703.1 783.0L704.6 784.4L706.1 785.8L707.6 787.2L709.1 788.6L710.6 790.0L712.1 791.4L713.6 792.8L715.1 794.3L716.6 795.8L718.1 797.2L719.6 798.7L721.1 800.2L722.6 801.7L724.1 803.2L725.6 804.7L727.1 806.2L728.6 807.8L730.1 809.3L731.6 810.9L733.1 812.5L734.6 814.0L736.1 815.6L737.6 817.2L739.1 818.8L740.6 820.5L742.1 822.1L743.6 823.7L745.1 825.4L746.6 827.1L748.1 828.7L749.6 830.4L751.1 832.1L752.6 833.8L754.1 835.5L755.6 837.2L757.1 838.9L758.6 840.7L760.1 842.4L761.6 844.1L763.1 845.9L764.6 847.6L766.1 849.3L767.6 851.1L769.1 852.8L770.6 854.6L772.1 856.3L773.6 858.1L775.1 859.8L776.6 861.5L778.1 863.3L779.6 865.0L781.1 866.8L782.6 868.5L784.1 870.3L785.6 872.0L787.1 873.8L788.6 875.6L790.1 877.3L791.6 879.1L793.1 880.9L794.6 882.7L796.1 884.6L797.6 886.4L799.1 888.2L800.6 890.1L802.1 891.9L803.6 893.8L805.1 895.7L806.6 897.7L808.1 899.6L809.6 901.6L811.1 903.6L812.6 905.6L814.1 907.6L815.6 909.7L817.1 911.8L818.6 914.0L820.1 916.1L821.6 918.4L823.1 920.6L823.5 921.2" fill="none" stroke="#00ffff" stroke-width="2.2"/>
<path d="M177.0 594.9L178.5 594.9L180.0 594.9L181.4 594.8M190.3 594.8L191.8 594.8L193.3 594.8L194.8 594.9L196.3 594.9L197.8 594.9L199.3 594.9L200.8 594.9L202.3 594.9L203.8 594.9L205.3 595.0L206.8 595.0L208.3 595.0L209.8 595.0L211.3 595.1L212.8 595.1L214.3 595.1L214.4 595.1M223.4 595.3L224.9 595.4L226.4 595.4L227.8 595.5M236.7 595.8L238.2 595.9L239.7 595.9L241.2 596.0L242.7 596.0L244.2 596.1L245.7 596.2L247.2 596.3L248.7 596.3L250.2 596.4L251.7 596.5L253.2 596.6L254.7 596.6L256.2 596.7L257.7 596.8L259.2 596.9L260.7 597.0M269.7 597.6L271.2 597.7L272.7 597.8L274.1 597.9M282.9 598.5L284.4 598.7L285.9 598.8L287.4 598.9L288.9 599.1L290.4 599.2L291.9 599.3L293.4 599.5L294.9 599.6L296.4 599.8L297.9 599.9L299.4 600.1L300.9 600.2L302.4 600.3L303.9 600.5L305.4 600.6L306.8 600.7M315.7 601.5L317.2 601.6L318.7 601.8L320.1 602.0M328.8 603.0L330.3 603.2L331.8 603.4L333.3 603.6L334.8 603.8L336.3 604.0L337.8 604.3L339.3 604.5L340.8 604.7L342.3 605.0L343.8 605.2L345.3 605.5L346.8 605.8L348.3 606.0L349.8 606.3L351.3 606.6L352.2 606.8M360.8 608.6L362.3 608.9L363.8 609.3L364.9 609.5M373.3 611.5L374.8 611.9L376.3 612.3L377.8 612.6L379.3 613.0L380.8 613.4L382.3 613.8L383.8 614.2L385.3 614.6L386.8 614.9L388.3 615.3L389.8 615.7L391.3 616.1L392.8 616.5L394.3 616.9L395.7 617.3M403.9 619.7L405.4 620.2L406.9 620.7L407.9 621.0M415.8 623.6L417.3 624.1L418.8 624.6L420.3 625.1L421.8 625.7L423.3 626.2L424.8 626.7L426.3 627.2L427.8 627.7L429.3 628.2L430.8 628.7L432.3 629.2L433.8 629.7L435.3 630.2L436.8 630.7L437.2 630.8M445.2 633.5L446.7 634.0L448.2 634.5L449.1 634.8M457.0 637.6L458.5 638.1L460.0 638.7L461.5 639.2L463.0 639.8L464.5 640.3L466.0 640.9L467.5 641.4L469.0 642.0L470.5 642.5L472.0 643.1L473.5 643.7L475.0 644.2L476.5 644.8L477.9 645.4M485.6 648.4L487.1 649.0L488.6 649.7L489.3 650.0M496.8 653.1L498.3 653.8L499.8 654.5L501.3 655.1L502.8 655.8L504.3 656.4L505.8 657.1L507.3 657.8L508.8 658.5L510.3 659.1L511.8 659.8L513.3 660.6L514.8 661.3L516.3 662.0L516.6 662.1M523.7 665.7L525.2 666.4L526.7 667.2L527.2 667.5M534.2 671.1L535.7 671.9L537.2 672.7L538.7 673.4L540.2 674.2L541.7 674.9L543.2 675.7L544.7 676.4L546.2 677.2L547.7 677.9L549.2 678.7L550.7 679.4L552.2 680.2L553.2 680.7M560.4 684.3L561.9 685.1L563.4 685.9L563.8 686.1M570.7 689.8L572.2 690.7L573.7 691.5L575.2 692.3L576.7 693.2L578.2 694.0L579.7 694.9L581.2 695.8L582.7 696.6L584.2 697.5L585.7 698.4L587.2 699.3L588.7 700.2L588.8 700.2M595.4 704.1L596.9 705.0L598.4 705.9L598.7 706.1M605.2 710.1L606.7 711.0L608.2 711.9L609.7 712.9L611.2 713.8L612.7 714.7L614.2 715.7L615.7 716.6L617.2 717.6L618.7 718.5L620.2 719.5L621.7 720.4L622.6 721.0M629.0 725.2L630.5 726.1L632.0 727.1M638.3 731.4L639.8 732.4L641.3 733.4L642.8 734.4L644.3 735.5L645.8 736.5L647.3 737.6L648.8 738.6L650.3 739.7L651.8 740.7L653.3 741.8L654.7 742.8M660.8 747.2L662.3 748.3L663.7 749.4M669.5 753.7L671.0 754.9L672.5 756.0L674.0 757.2L675.5 758.3L677.0 759.5L678.5 760.7L680.0 761.9L681.5 763.1L683.0 764.3L684.5 765.5L684.9 765.8M690.6 770.5L692.1 771.7L693.2 772.7M698.7 777.4L700.2 778.7L701.7 780.0L702.7 780.9M706.4 784.2L707.9 785.5L709.4 786.9L710.9 788.3L712.4 789.7L713.9 791.1L715.4 792.5L716.7 793.7M720.1 797.0L721.6 798.5L722.5 799.3M725.9 802.7L727.4 804.2L728.9 805.8L730.4 807.3L731.9 808.9L733.4 810.4L734.9 812.0L735.4 812.5M738.7 816.0L740.2 817.6L741.7 819.3L743.2 820.9L744.7 822.5L746.2 824.2L746.6 824.6M750.1 828.5L751.6 830.1L753.1 831.8L754.6 833.5L756.1 835.2L756.4 835.5M759.9 839.5L761.4 841.2L762.9 842.9L764.4 844.6L765.9 846.3L766.1 846.5M769.5 850.4L771.0 852.1L772.5 853.9L774.0 855.6L775.5 857.3L775.7 857.5M779.1 861.5L780.6 863.2L782.1 864.9L783.6 866.7L785.1 868.4L785.2 868.5M788.6 872.5L790.1 874.3L791.6 876.1L793.1 877.8L794.6 879.6M797.9 883.6L799.4 885.5L800.9 887.3L802.4 889.2L803.7 890.8M806.9 894.9L808.4 896.8L809.9 898.8L811.4 900.8L812.4 902.1M815.4 906.2L816.9 908.3L818.4 910.5L819.9 912.7L820.6 913.7M823.4 917.9L823.5 918.0" fill="none" stroke="#ff0000" stroke-width="2.2"/>
<circle cx="337.4" cy="408.2" r="3.5" fill="#000"/>
<circle cx="490.0" cy="321.9" r="3.5" fill="#000"/>
<circle cx="563.8" cy="274.3" r="3.5" fill="#000"/>
<circle cx="603.2" cy="263.8" r="3.5" fill="#000"/>
<circle cx="629.4" cy="269.4" r="3.5" fill="#000"/>
<circle cx="651.1" cy="252.3" r="3.5" fill="#000"/>
<circle cx="672.4" cy="184.1" r="3.5" fill="#000"/>
<circle cx="686.0" cy="215.6" r="3.5" fill="#000"/>
<circle cx="702.8" cy="169.8" r="3.5" fill="#000"/>
<circle cx="720.6" cy="186.2" r="3.5" fill="#000"/>
<circle cx="738.1" cy="162.5" r="3.5" fill="#000"/>
<circle cx="755.6" cy="190.0" r="3.5" fill="#000"/>
<circle cx="773.0" cy="175.0" r="3.5" fill="#000"/>
<circle cx="790.5" cy="142.2" r="3.5" fill="#000"/>
<circle cx="807.6" cy="122.3" r="3.5" fill="#000"/>
<path d="M337.4 400.6V415.7M331.1 400.6H343.7M331.1 415.7H343.7M490.0 314.7V329.0M483.7 314.7H496.3M483.7 329.0H496.3M563.8 262.0V287.5M557.5 262.0H570.1M557.5 287.5H570.1M603.2 251.2V276.4M596.9 251.2H609.5M596.9 276.4H609.5M629.4 258.2V279.9M623.1 258.2H635.7M623.1 279.9H635.7M651.1 241.4V263.1M644.8 241.4H657.4M644.8 263.1H657.4M672.4 168.0V200.9M666.1 168.0H678.7M666.1 200.9H678.7M686.0 199.5V231.6M679.7 199.5H692.3M679.7 231.6H692.3M702.8 153.4V186.6M696.5 153.4H709.1M696.5 186.6H709.1M720.6 170.1V202.6M714.3 170.1H726.9M714.3 202.6H726.9M738.1 144.3V180.6M731.8 144.3H744.4M731.8 180.6H744.4M755.6 171.9V208.2M749.3 171.9H761.9M749.3 208.2H761.9M773.0 156.9V193.9M766.7 156.9H779.3M766.7 193.9H779.3M790.5 116.3V167.3M784.2 116.3H796.8M784.2 167.3H796.8M807.6 94.3V149.2M801.3 94.3H813.9M801.3 149.2H813.9" fill="none" stroke="#000" stroke-width="2"/>
<circle cx="337.5" cy="600.9" r="3.5" fill="#000"/>
<circle cx="490.0" cy="638.8" r="3.5" fill="#000"/>
<circle cx="563.8" cy="670.6" r="3.5" fill="#000"/>
<circle cx="603.2" cy="688.1" r="3.5" fill="#000"/>
<circle cx="629.4" cy="720.2" r="3.5" fill="#000"/>
<circle cx="651.1" cy="752.0" r="3.5" fill="#000"/>
<circle cx="672.4" cy="761.8" r="3.5" fill="#000"/>
<circle cx="686.0" cy="775.1" r="3.5" fill="#000"/>
<circle cx="702.8" cy="798.5" r="3.5" fill="#000"/>
<circle cx="720.6" cy="815.7" r="3.5" fill="#000"/>
<circle cx="738.1" cy="833.2" r="3.5" fill="#000"/>
<circle cx="755.5" cy="854.2" r="3.5" fill="#000"/>
<circle cx="772.8" cy="878.4" r="3.5" fill="#000"/>
<circle cx="790.5" cy="899.7" r="3.5" fill="#000"/>
<circle cx="807.5" cy="930.8" r="3.5" fill="#000"/>
<path d="M337.5 595.8V605.9M331.2 595.8H343.8M331.2 605.9H343.8M490.0 632.9V644.8M483.7 632.9H496.3M483.7 644.8H496.3M563.8 665.0V676.4M557.5 665.0H570.1M557.5 676.4H570.1M603.2 682.8V693.7M596.9 682.8H609.5M596.9 693.7H609.5M629.4 714.3V726.2M623.1 714.3H635.7M623.1 726.2H635.7M651.1 746.1V757.6M644.8 746.1H657.4M644.8 757.6H657.4M672.4 756.6V767.1M666.1 756.6H678.7M666.1 767.1H678.7M686.0 769.8V780.7M679.7 769.8H692.3M679.7 780.7H692.3M702.8 793.3V803.7M696.5 793.3H709.1M696.5 803.7H709.1M720.6 810.6V821.2M714.3 810.6H726.9M714.3 821.2H726.9M738.1 827.8V838.8M731.8 827.8H744.4M731.8 838.8H744.4M755.5 849.0V859.6M749.2 849.0H761.8M749.2 859.6H761.8M772.8 873.4V883.5M766.5 873.4H779.1M766.5 883.5H779.1M790.5 895.6V903.7M784.2 895.6H796.8M784.2 903.7H796.8M807.5 927.8V933.6M801.2 927.8H813.8M801.2 933.6H813.8" fill="none" stroke="#000" stroke-width="2"/>
<g font-size="200" opacity="0.999" stroke="#000" stroke-linejoin="round">
<path d="M241.5 818.9H424.5" stroke="#000" stroke-width="2.2" fill="none"/>
<text transform="translate(443.54 829.00) scale(0.1271 0.1573)" stroke-width="2.81">M</text>
<text transform="translate(467.72 829.00) scale(0.1976 0.1573)" stroke-width="2.25">o</text>
<text transform="translate(488.36 829.00) scale(0.2055 0.1573)" stroke-width="2.21">d</text>
<text transform="translate(508.95 829.00) scale(0.1689 0.1573)" stroke-width="2.45">e</text>
<text transform="translate(525.44 829.00) scale(0.1396 0.1573)" stroke-width="2.70">l</text>
<text transform="translate(551.45 829.00) scale(0.1420 0.1573)" stroke-width="2.67">D</text>
<text transform="translate(574.79 829.00) scale(0.1239 0.1573)" stroke-width="2.84">1</text>
<path d="M241.5 875.3H424.5" stroke="#00ff00" stroke-width="2.2" fill="none" stroke-dasharray="4 9.4"/>
<text transform="translate(443.54 885.35) scale(0.1271 0.1573)" stroke-width="2.81" fill="#00ff00" stroke="#00ff00">M</text>
<text transform="translate(467.72 885.35) scale(0.1976 0.1573)" stroke-width="2.25" fill="#00ff00" stroke="#00ff00">o</text>
<text transform="translate(488.36 885.35) scale(0.2055 0.1573)" stroke-width="2.21" fill="#00ff00" stroke="#00ff00">d</text>
<text transform="translate(508.95 885.35) scale(0.1689 0.1573)" stroke-width="2.45" fill="#00ff00" stroke="#00ff00">e</text>
<text transform="translate(525.44 885.35) scale(0.1396 0.1573)" stroke-width="2.70" fill="#00ff00" stroke="#00ff00">l</text>
<text transform="translate(551.45 885.35) scale(0.1420 0.1573)" stroke-width="2.67" fill="#00ff00" stroke="#00ff00">D</text>
<text transform="translate(572.42 885.35) scale(0.1750 0.1573)" stroke-width="2.41" fill="#00ff00" stroke="#00ff00">2</text>
<path d="M241.5 931.3H424.5" stroke="#0000ff" stroke-width="2.2" fill="none" stroke-dasharray="24 17.8"/>
<text transform="translate(443.54 941.70) scale(0.1271 0.1573)" stroke-width="2.81" fill="#0000ff" stroke="#0000ff">M</text>
<text transform="translate(467.72 941.70) scale(0.1976 0.1573)" stroke-width="2.25" fill="#0000ff" stroke="#0000ff">o</text>
<text transform="translate(488.36 941.70) scale(0.2055 0.1573)" stroke-width="2.21" fill="#0000ff" stroke="#0000ff">d</text>
<text transform="translate(508.95 941.70) scale(0.1689 0.1573)" stroke-width="2.45" fill="#0000ff" stroke="#0000ff">e</text>
<text transform="translate(525.44 941.70) scale(0.1396 0.1573)" stroke-width="2.70" fill="#0000ff" stroke="#0000ff">l</text>
<text transform="translate(551.45 941.70) scale(0.1420 0.1573)" stroke-width="2.67" fill="#0000ff" stroke="#0000ff">D</text>
<text transform="translate(572.29 941.70) scale(0.1675 0.1573)" stroke-width="2.46" fill="#0000ff" stroke="#0000ff">3</text>
<path d="M241.5 987.7H424.5" stroke="#00ffff" stroke-width="2.2" fill="none" stroke-dasharray="59.7 18"/>
<text transform="translate(443.54 998.05) scale(0.1271 0.1573)" stroke-width="2.81" fill="#00ffff" stroke="#00ffff">M</text>
<text transform="translate(467.72 998.05) scale(0.1976 0.1573)" stroke-width="2.25" fill="#00ffff" stroke="#00ffff">o</text>
<text transform="translate(488.36 998.05) scale(0.2055 0.1573)" stroke-width="2.21" fill="#00ffff" stroke="#00ffff">d</text>
<text transform="translate(508.95 998.05) scale(0.1689 0.1573)" stroke-width="2.45" fill="#00ffff" stroke="#00ffff">e</text>
<text transform="translate(525.44 998.05) scale(0.1396 0.1573)" stroke-width="2.70" fill="#00ffff" stroke="#00ffff">l</text>
<text transform="translate(551.45 998.05) scale(0.1420 0.1573)" stroke-width="2.67" fill="#00ffff" stroke="#00ffff">D</text>
<text transform="translate(573.18 998.05) scale(0.1559 0.1573)" stroke-width="2.55" fill="#00ffff" stroke="#00ffff">4</text>
<path d="M241.5 1043.7H418.0" stroke="#ff0000" stroke-width="2.2" fill="none" stroke-dasharray="4.5 8.7 24 8.7"/>
<text transform="translate(443.54 1054.40) scale(0.1271 0.1573)" stroke-width="2.81" fill="#ff0000" stroke="#ff0000">M</text>
<text transform="translate(467.72 1054.40) scale(0.1976 0.1573)" stroke-width="2.25" fill="#ff0000" stroke="#ff0000">o</text>
<text transform="translate(488.36 1054.40) scale(0.2055 0.1573)" stroke-width="2.21" fill="#ff0000" stroke="#ff0000">d</text>
<text transform="translate(508.95 1054.40) scale(0.1689 0.1573)" stroke-width="2.45" fill="#ff0000" stroke="#ff0000">e</text>
<text transform="translate(525.44 1054.40) scale(0.1396 0.1573)" stroke-width="2.70" fill="#ff0000" stroke="#ff0000">l</text>
<text transform="translate(551.45 1054.40) scale(0.1420 0.1573)" stroke-width="2.67" fill="#ff0000" stroke="#ff0000">D</text>
<text transform="translate(572.86 1054.40) scale(0.1613 0.1573)" stroke-width="2.51" fill="#ff0000" stroke="#ff0000">5</text>
<text transform="translate(169.51 1134.60) scale(0.1465 0.1788)" stroke-width="2.46">1</text>
<text transform="translate(419.81 1134.60) scale(0.1465 0.1788)" stroke-width="2.46">1</text>
<text transform="translate(438.05 1134.60) scale(0.2060 0.1788)" stroke-width="2.08">0</text>
<text transform="translate(669.93 1134.60) scale(0.1451 0.1788)" stroke-width="2.47">1</text>
<text transform="translate(688.65 1134.60) scale(0.2060 0.1788)" stroke-width="2.08">0</text>
<text transform="translate(710.69 1134.60) scale(0.2012 0.1788)" stroke-width="2.11">0</text>
<text transform="translate(135.19 125.90) scale(0.2032 0.1788)" stroke-width="2.09">4</text>
<text transform="translate(135.72 347.60) scale(0.2087 0.1788)" stroke-width="2.06">2</text>
<text transform="translate(139.27 577.60) scale(0.1310 0.1788)" stroke-width="2.58">1</text>
<text transform="translate(127.27 577.11) scale(0.1333 0.1292)" stroke-width="3.05">.</text>
<text transform="translate(104.31 577.60) scale(0.1988 0.1788)" stroke-width="2.12">0</text>
<text transform="translate(139.27 765.20) scale(0.1310 0.1788)" stroke-width="2.58">1</text>
<text transform="translate(114.55 765.20) scale(0.2060 0.1788)" stroke-width="2.08">0</text>
<text transform="translate(105.07 764.71) scale(0.1333 0.1292)" stroke-width="3.05">.</text>
<text transform="translate(82.11 765.20) scale(0.1988 0.1788)" stroke-width="2.12">0</text>
<text transform="translate(139.27 953.00) scale(0.1310 0.1788)" stroke-width="2.58">1</text>
<text transform="translate(114.55 953.00) scale(0.2060 0.1788)" stroke-width="2.08">0</text>
<text transform="translate(92.85 953.00) scale(0.2060 0.1788)" stroke-width="2.08">0</text>
<text transform="translate(83.37 952.51) scale(0.1333 0.1292)" stroke-width="3.05">.</text>
<text transform="translate(60.41 953.00) scale(0.1988 0.1788)" stroke-width="2.12">0</text>
<text transform="translate(438.44 1179.90) scale(0.2393 0.1878)" stroke-width="1.87">r</text>
<text transform="translate(475.21 1179.14) scale(0.1431 0.1945)" stroke-width="2.37">(</text>
<text transform="translate(490.10 1179.90) scale(0.1990 0.1878)" stroke-width="2.07">k</text>
<text transform="translate(511.06 1179.90) scale(0.2146 0.1878)" stroke-width="1.99">p</text>
<text transform="translate(531.60 1179.90) scale(0.2253 0.1878)" stroke-width="1.94">c</text>
<text transform="translate(555.99 1179.14) scale(0.1519 0.1945)" stroke-width="2.31">)</text>
<g transform="translate(108.8 339.8) rotate(-90)">
<text transform="translate(-0.21 0.00) scale(0.1513 0.1878)" stroke-width="2.36">T</text>
<text transform="translate(37.88 -1.56) scale(0.1686 0.1874)" stroke-width="2.25">(</text>
<text transform="translate(52.02 0.00) scale(0.1948 0.1878)" stroke-width="2.09">k</text>
<text transform="translate(74.40 0.00) scale(0.1622 0.1878)" stroke-width="2.29">e</text>
<text transform="translate(95.53 0.00) scale(0.1336 0.1878)" stroke-width="2.49">V</text>
<text transform="translate(118.41 -1.56) scale(0.1654 0.1874)" stroke-width="2.27">)</text>
</g>
<g transform="translate(30.6 902) rotate(-90)">
<text transform="translate(-0.36 0.00) scale(0.1892 0.1878)" stroke-width="2.12">n</text>
<text transform="translate(20.22 10.40) scale(0.1473 0.1160)" stroke-width="3.04">e</text>
<text transform="translate(53.26 -1.55) scale(0.1824 0.1918)" stroke-width="2.14">(</text>
<text transform="translate(66.70 0.00) scale(0.2120 0.1878)" stroke-width="2.00">c</text>
<text transform="translate(88.55 0.00) scale(0.2134 0.1878)" stroke-width="1.99">m</text>
<path d="M124.3 -17.3H133" stroke="#000" stroke-width="1.8" fill="none"/>
<text transform="translate(138.41 -9.70) scale(0.1325 0.1212)" stroke-width="3.15">3</text>
<text transform="translate(153.53 -1.55) scale(0.1942 0.1918)" stroke-width="2.07">)</text>
</g>
</g>
</svg>
</body></html>
